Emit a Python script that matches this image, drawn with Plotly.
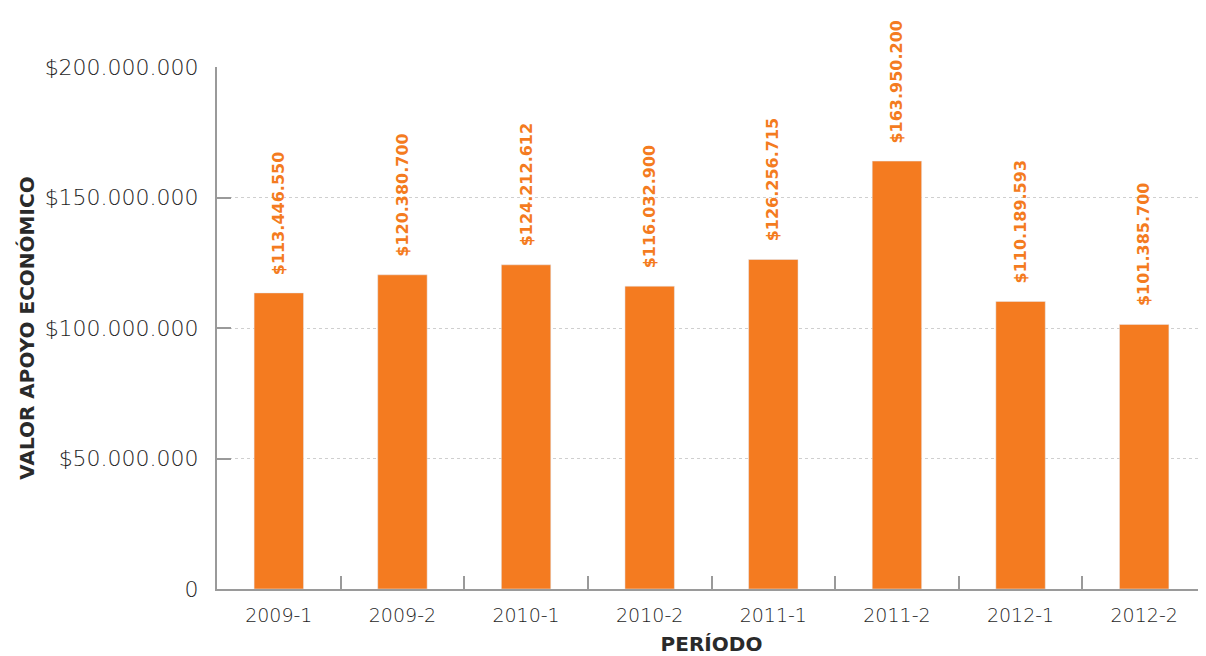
import plotly.graph_objects as go

periods = ["2009-1", "2009-2", "2010-1", "2010-2", "2011-1", "2011-2", "2012-1", "2012-2"]
values = [113446550, 120380700, 124212612, 116032900, 126256715, 163950200, 110189593, 101385700]
y_tickvals = [0, 50000000, 100000000, 150000000, 200000000]
y_ticktext = ["0", "$50.000.000", "$100.000.000", "$150.000.000", "$200.000.000"]

ORANGE = "#F47B20"
AXIS = "#9a9a9a"
TXT = "#2a2a2a"
TICKTXT = "#1e1e1e"
FONT = "DejaVu Sans"

def fmt(v):
    return "$" + f"{v:,}".replace(",", ".")

fig = go.Figure()
fig.add_trace(go.Bar(x=periods, y=values, marker_color=ORANGE, width=0.4,
                     hoverinfo="x+y"))

for p, v in zip(periods, values):
    fig.add_annotation(x=p, y=v, text=fmt(v), textangle=-90, showarrow=False,
                       yanchor="bottom", yshift=16,
                       font=dict(family=FONT, size=16, color=ORANGE, weight=600))

fig.update_layout(
    width=1198, height=648,
    margin=dict(l=209, r=0, t=59, b=67),
    plot_bgcolor="white", paper_bgcolor="white",
    showlegend=False,
    font=dict(family=FONT, color=TXT),
    bargap=0.6,
)
fig.update_xaxes(
    type="category", automargin=False,
    showline=True, linecolor=AXIS, linewidth=2,
    ticks="inside", tickson="boundaries", ticklen=13, tickcolor=AXIS, tickwidth=2,
    tickfont=dict(family=FONT, size=19, color=TICKTXT, weight=200), ticklabelstandoff=8,
    showgrid=False,
    title=dict(text="<b>PERÍODO</b>", font=dict(family=FONT, size=20, color=TXT), standoff=12),
)
fig.update_yaxes(
    range=[0, 200000000], tickvals=y_tickvals, ticktext=y_ticktext, automargin=False,
    showline=True, linecolor=AXIS, linewidth=2,
    ticks="inside", ticklen=14, tickcolor=AXIS, tickwidth=2,
    tickfont=dict(family=FONT, size=22, color=TICKTXT, weight=200), ticklabelstandoff=12,
    showgrid=True, gridcolor="#cfcfcf", griddash="dot", gridwidth=1,
    zeroline=False,
    title=dict(text="<b>VALOR APOYO ECONÓMICO</b>", font=dict(family=FONT, size=20, color=TXT), standoff=5),
)
fig.write_html("out.html")
